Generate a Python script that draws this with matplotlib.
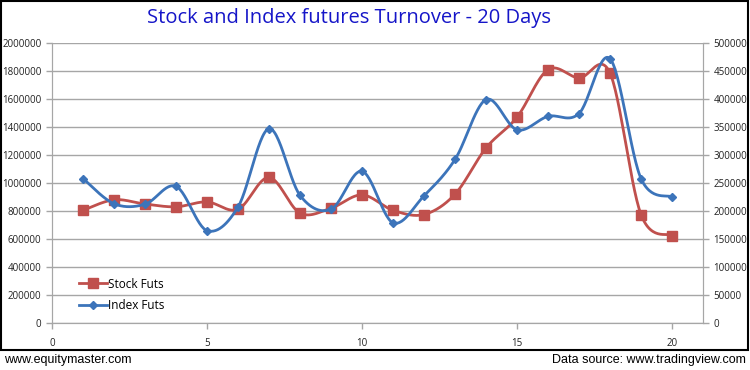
import numpy as np
import matplotlib.pyplot as plt
from matplotlib.patches import Rectangle
from matplotlib.lines import Line2D

# 資料
days = [1, 2, 3, 4, 5, 6, 7, 8, 9, 10, 11, 12, 13, 14, 15, 16, 17, 18, 19, 20]
stock_futs = [805000, 880000, 850000, 830000, 865000, 812000, 1040000, 785000, 820000, 915000,
              805000, 775000, 920000, 1250000, 1470000, 1810000, 1750000, 1785000, 775000, 625000]
index_futs = [258000, 213000, 212000, 244000, 165000, 207000, 347000, 228000, 203000, 271000,
              179000, 227000, 292000, 399000, 345000, 369000, 374000, 472000, 258000, 225000]

left_ticks = [0, 200000, 400000, 600000, 800000, 1000000, 1200000, 1400000, 1600000, 1800000, 2000000]
right_ticks = [0, 50000, 100000, 150000, 200000, 250000, 300000, 350000, 400000, 450000, 500000]

red = '#C0504D'
blue = '#3C74BA'
grid_c = '#A6A6A6'


def smooth_curve(xs, ys, n=30):
    """Excel 風格平滑線 (Catmull-Rom 轉 Bezier)"""
    xs = np.asarray(xs, float)
    ys = np.asarray(ys, float)
    out_x, out_y = [], []
    t = np.linspace(0, 1, n)
    for i in range(len(xs) - 1):
        p0 = np.array([xs[max(i - 1, 0)], ys[max(i - 1, 0)]])
        p1 = np.array([xs[i], ys[i]])
        p2 = np.array([xs[i + 1], ys[i + 1]])
        p3 = np.array([xs[min(i + 2, len(xs) - 1)], ys[min(i + 2, len(xs) - 1)]])
        c1 = p1 + (p2 - p0) / 6
        c2 = p2 - (p3 - p1) / 6
        seg = ((1 - t) ** 3)[:, None] * p1 + (3 * (1 - t) ** 2 * t)[:, None] * c1 \
            + (3 * (1 - t) * t ** 2)[:, None] * c2 + (t ** 3)[:, None] * p2
        out_x.extend(seg[:, 0])
        out_y.extend(seg[:, 1])
    return out_x, out_y


plt.rcParams['font.family'] = ['Open Sans', 'DejaVu Sans']

fig = plt.figure(figsize=(7.5, 3.7), dpi=100)
W, H = 750, 370

# 外框
fig.patches.append(Rectangle((1 / W, 1 - 350 / H), 747 / W, 349 / H, transform=fig.transFigure,
                             fill=False, edgecolor='black', linewidth=1.5))

ax = fig.add_axes([52 / W, 1 - 323 / H, (703 - 52) / W, (323 - 43) / H])
ax2 = ax.twinx()

sx, sy = smooth_curve(days, stock_futs)
ax.plot(sx, sy, color=red, linewidth=2)
ax.plot(days, stock_futs, 's', color=red, markersize=7, linestyle='none')

ix, iy = smooth_curve(days, index_futs)
ax2.plot(ix, iy, color=blue, linewidth=2)
ax2.plot(days, index_futs, 'D', color=blue, markersize=4.5, linestyle='none')

ax.set_xlim(0, 21)
ax.set_ylim(0, 2000000)
ax2.set_ylim(0, 500000)
ax.set_xticks([0, 5, 10, 15, 20])
ax.set_yticks(left_ticks)
ax2.set_yticks(right_ticks)
ax.set_yticklabels([str(v) for v in left_ticks])
ax2.set_yticklabels([str(v) for v in right_ticks])

ax.grid(axis='y', color=grid_c, linewidth=1)
ax.set_axisbelow(True)
for a in (ax, ax2):
    a.spines['top'].set_visible(False)
    a.spines['left'].set_color(grid_c)
    a.spines['right'].set_color(grid_c)
    a.spines['bottom'].set_color(grid_c)
    a.tick_params(labelsize=7, colors='#222222', length=4, width=1)
    a.tick_params(axis='both', color=grid_c)
ax.tick_params(axis='x', pad=7)

# 圖例
h1 = Line2D([], [], color=red, marker='s', markersize=7, linewidth=2)
h2 = Line2D([], [], color=blue, marker='D', markersize=4.5, linewidth=2)
ax.legend([h1, h2], ['Stock Futs', 'Index Futs'], loc='lower left', bbox_to_anchor=(0.025, 0.0),
          frameon=False, fontsize=8.5, handlelength=2.4, handletextpad=0.1, labelspacing=0.75)

fig.text(349 / W, 1 - 18 / H, 'Stock and Index futures Turnover - 20 Days', ha='center', va='center',
         fontsize=14.5, color='#1515C8')

fig.text(4 / W, 1 - 360 / H, 'www.equitymaster.com', ha='left', va='center', fontsize=9,
         family=['Liberation Sans Narrow', 'Liberation Sans'])
fig.text(746 / W, 1 - 360 / H, 'Data source: www.tradingview.com', ha='right', va='center', fontsize=9,
         family=['Liberation Sans Narrow', 'Liberation Sans'])

fig.savefig('out.png', dpi=100)
